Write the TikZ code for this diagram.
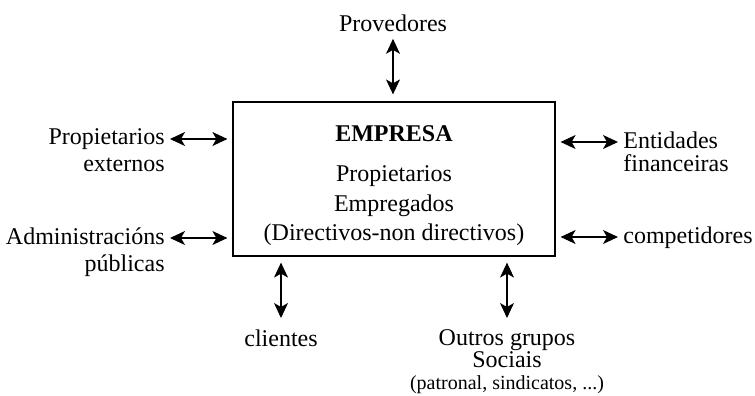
\documentclass[tikz,border=0pt]{standalone}
\usepackage{fontspec}
\setmainfont{Liberation Serif}
\usetikzlibrary{arrows.meta}
\begin{document}
\begin{tikzpicture}[x=0.5pt,y=-0.5pt,
        dbl/.style={{Stealth[length=7.5pt,width=7pt,inset=2pt]}-{Stealth[length=7.5pt,width=7pt,inset=2pt]},line width=0.55pt},
        lbl/.style={inner sep=0pt,font=\fontsize{12}{13.5}\selectfont}]
        \useasboundingbox (0,0) rectangle (755,396);
        % empresa
        \node[draw,line width=0.6pt,minimum width=161pt,minimum height=77pt,inner sep=0pt] (empresa) at (394,179) {};
        \node[lbl,align=center,font=\fontsize{12}{14.8}\selectfont] (emptxt) at (394,186) {\textbf{EMPRESA}\\[5pt] Propietarios\\ Empregados\\ (Directivos-non directivos)};
        % arriba
        \node[lbl] (prov) at (393,23) {Provedores};
        \draw[dbl,shorten <=3.5pt,shorten >=3.5pt] (prov.south) -- (prov.south |- empresa.north);
        % esquerda
        \coordinate (pe) at (170,139);
        \coordinate (ad) at (170,238);
        \node[lbl,align=right,anchor=north east] (propext) at (165,128) {Propietarios\\ externos};
        \node[lbl,align=right,anchor=north east] (admin) at (165,227) {Administracións\\ públicas};
        \draw[dbl,shorten >=2.5pt] (pe) -- (pe -| empresa.west);
        \draw[dbl,shorten >=2.5pt] (ad) -- (ad -| empresa.west);
        % dereita
        \coordinate (en) at (618,142);
        \coordinate (co) at (618,237);
        \node[lbl,align=left,anchor=north west,font=\fontsize{12}{11.5}\selectfont] (entid) at (623,131) {Entidades\\ financeiras};
        \node[lbl,anchor=north west] (compet) at (623,226) {competidores};
        \draw[dbl,shorten >=2.5pt] (en) -- (en -| empresa.east);
        \draw[dbl,shorten >=2.5pt] (co) -- (co -| empresa.east);
        % abaixo
        \node[lbl,anchor=north] (client) at (281,329) {clientes};
        \node[lbl,align=center,anchor=north,font=\fontsize{12}{11}\selectfont] (outros) at (507,329) {Outros grupos\\ Sociais\\ {\fontsize{10}{11}\selectfont (patronal, sindicatos, ...)}};
        \draw[dbl,shorten <=3pt,shorten >=5.5pt] (client.north |- empresa.south) -- (client.north);
        \draw[dbl,shorten <=3pt,shorten >=5.5pt] (outros.north |- empresa.south) -- (outros.north);
    \end{tikzpicture}
\end{document}
